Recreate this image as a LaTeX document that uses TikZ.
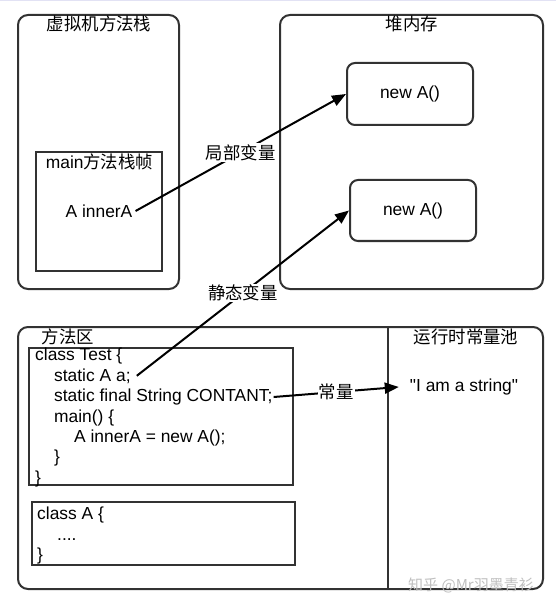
\documentclass[tikz,border=0pt]{standalone}
\usepackage{fontspec}
\setmainfont{Liberation Sans}
\newfontfamily\cjk{Noto Sans CJK SC}
\usetikzlibrary{arrows.meta}
\newcommand\myfs{\fontsize{17.4}{20.5}\selectfont}
\definecolor{gridc}{RGB}{226,226,244}
\definecolor{edge}{RGB}{50,50,50}
\tikzset{
  frame/.style={draw=edge, line width=2pt, fill=white, rounded corners=10pt, inner sep=0pt, anchor=north west},
  objbox/.style={draw=edge, line width=2pt, fill=white, rounded corners=8pt, inner sep=0pt, font=\myfs},
  codebox/.style={draw=edge, line width=2pt, fill=white, inner sep=0pt, anchor=north west},
  title/.style={font=\myfs\cjk, inner sep=0pt},
  code/.style={font=\myfs, inner sep=0pt, anchor=base west},
  lbl/.style={font=\myfs\cjk, fill=white, inner sep=1pt},
  link/.style={line width=2pt, -{Triangle[length=14pt,width=11pt]}},
}
\begin{document}
\begin{tikzpicture}[x=1pt,y=-1pt]
\useasboundingbox (0,0) rectangle (556,609);
\draw[gridc, line width=0.8pt, step=12.5pt] (0,0) grid (556,-609);
% boxes
\node[frame, minimum width=161pt, minimum height=274pt] (jvms) at (17,14) {};
\node[frame, minimum width=263pt, minimum height=274pt] (heap) at (279,14) {};
\node[frame, minimum width=525pt, minimum height=262pt] (ma) at (17,326) {};
\draw[edge, line width=2.5pt] (ma.north west -| 388,0) -- (ma.south west -| 388,0);
\node[codebox, minimum width=126pt, minimum height=119pt] (frm) at (35,151) {};
\node[objbox, minimum width=126pt, minimum height=62pt] (newa) at (410,94) {new A()};
\node[objbox, minimum width=126pt, minimum height=61pt] (newb) at (413,210.5) {new A()};
\node[codebox, minimum width=264pt, minimum height=137pt] (ct) at (28,347) {};
\node[codebox, minimum width=263pt, minimum height=63pt] (ca) at (31,501) {};
% titles
\node[title] (t1) at (99,24) {虚拟机方法栈};
\node[title] (t2) at (412,24) {堆内存};
\node[title] (t3) at (99.5,162) {\fontspec{Liberation Sans}main\cjk 方法栈帧};
\node[title] (t4) at (68,337) {方法区};
\node[title] (t5) at (466,337) {运行时常量池};
\node[font=\myfs, inner sep=0pt, inner xsep=3pt] (ia) at (99,211) {A innerA};
\node[font=\myfs, inner sep=0pt, inner xsep=11pt] (str) at (464,387) {\textquotedbl I am a string\textquotedbl};
% code
\node[code] (c1) at (35,360.5) {class Test \{};
\node[code, inner xsep=6pt, xshift=-6pt] (c2) at (54,381) {static A a;};
\node[code, inner xsep=1pt, xshift=-1pt] (c3) at (54,401.5) {static final String CONTANT;};
\node[code] (c4) at (54,422) {main() \{};
\node[code] (c5) at (74,442) {A innerA = new A();};
\node[code] (c6) at (54,462.5) {\}};
\node[code] (c7) at (35,483) {\}};
\node[code] (d1) at (37,519) {class A \{};
\node[code] (d2) at (57,540) {....};
\node[code] (d3) at (37,560) {\}};
% arrows
\draw[link] (ia.east) -- node[lbl] {局部变量} (newa.west);
\draw[link] (c2.east) -- node[lbl] {静态变量} (newb.west);
\draw[link] (c3.east) -- node[lbl] {常量} (str.west);
% watermark
\node[font=\fontsize{15}{15}\selectfont\cjk, text=black!25, inner sep=0pt] (wm) at (471,585) {知乎 @Mr羽墨青衫};
\end{tikzpicture}
\end{document}
